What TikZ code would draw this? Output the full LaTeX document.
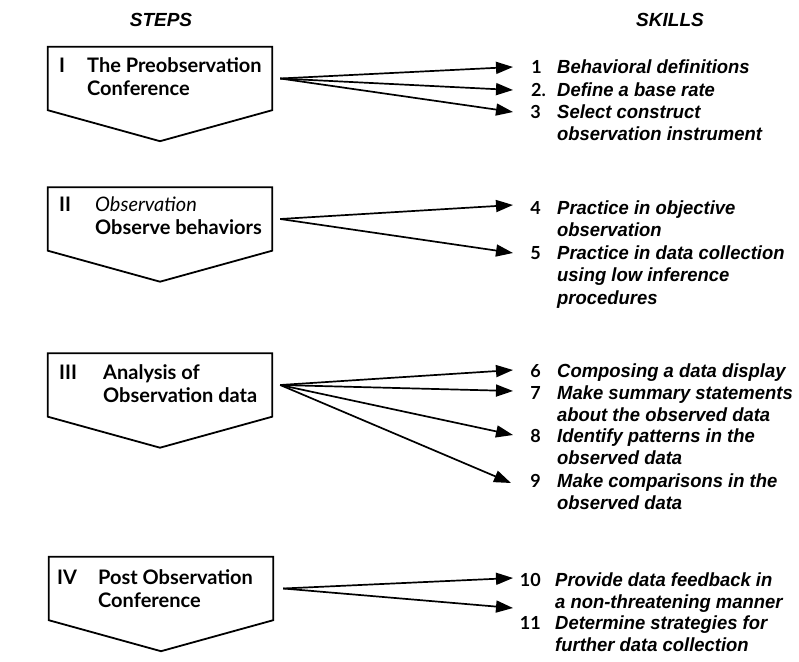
\documentclass[tikz,border=0pt]{standalone}
\usepackage{fontspec}
\setmainfont{Lato}
\newfontfamily\skillfont[FakeStretch=0.97]{Liberation Sans}
\newfontfamily\headfont{Liberation Sans}
\usetikzlibrary{arrows.meta,calc}
% rows of a multi-line label, baseline on the first row
\newcommand\sklines[1]{\begin{tabular}[t]{@{}l@{}}#1\end{tabular}}

\begin{document}
\begin{tikzpicture}[x=1pt,y=-1pt,
  stepbox/.style={minimum width=224pt, minimum height=63pt, inner sep=0pt},
  boxline/.style={line width=1.8pt, line join=miter},
  roman/.style={anchor=base west, inner sep=0pt, font=\fontsize{20}{23}\selectfont\bfseries},
  steptext/.style={anchor=base west, inner sep=0pt, font=\fontsize{20}{23}\selectfont\bfseries},
  head/.style={inner sep=0pt, font=\headfont\fontsize{19}{22}\selectfont\bfseries\itshape},
  num/.style={anchor=base east, inner sep=0pt, font=\fontsize{18}{22.6}\selectfont\bfseries},
  skill/.style={anchor=base west, inner sep=0pt, font=\skillfont\fontsize{19}{22.6}\selectfont\bfseries\itshape},
  arr/.style={line width=1.7pt, -{Triangle[length=17pt,width=12pt]}}
]
\useasboundingbox (0,0) rectangle (799,661);

% column headings
\node[head] (hsteps) at (161,20) {STEPS};
\node[head] (hskills) at (670,20) {SKILLS};

% the four steps
\node[stepbox] (b1) at (160,78.5) {};
\node[stepbox] (b2) at (160,219) {};
\node[stepbox] (b3) at (160,385) {};
\node[stepbox] (b4) at (161,588.5) {};
\foreach \b in {b1,b2,b3,b4}
  \draw[boxline] (\b.north west) -- (\b.north east) -- (\b.south east)
    -- ($(\b.south)+(0,31)$) -- (\b.south west) -- cycle;

\node[roman] (r1) at (59,72) {I};
\node[steptext] (x1) at (87,72) {\sklines{The Preobservation\\Conference}};
\node[roman] (r2) at (59,211) {II};
\node[steptext] (x2) at (95,211) {\sklines{{\mdseries\itshape Observation}\\Observe behaviors}};
\node[roman] (r3) at (59,379) {III};
\node[steptext] (x3) at (103,379) {\sklines{Analysis of\\Observation data}};
\node[roman] (r4) at (57,584) {IV};
\node[steptext] (x4) at (98,584) {\sklines{Post Observation\\Conference}};

% where the arrows of each step fan out
\coordinate (s1) at ($(b1.east)+(8,0)$);
\coordinate (s2) at ($(b2.east)+(8,0)$);
\coordinate (s3) at ($(b3.east)+(8,0)$);
\coordinate (s4) at ($(b4.east)+(10,0)$);

% skills
\node[num] (n1) at (542,73) {1};
\node[skill] (k1) at (557,73) {\sklines{Behavioral definitions}};
\node[num] (n2) at (546,96) {2.};
\node[skill] (k2) at (557,96) {\sklines{Define a base rate}};
\node[num] (n3) at (541,118) {3};
\node[skill] (k3) at (557,118) {\sklines{Select construct\\observation instrument}};

\node[num] (n4) at (541,214) {4};
\node[skill] (k4) at (557,214) {\sklines{Practice in objective\\observation}};
\node[num] (n5) at (541,259) {5};
\node[skill] (k5) at (557,259) {\sklines{Practice in data collection\\using low inference\\procedures}};

\node[num] (n6) at (541,377) {6};
\node[skill] (k6) at (557,377) {\sklines{Composing a data display}};
\node[num] (n7) at (541,399) {7};
\node[skill] (k7) at (557,399) {\sklines{Make summary statements\\about the observed data}};
\node[num] (n8) at (541,442) {8};
\node[skill] (k8) at (557,442) {\sklines{Identify patterns in the\\observed data}};
\node[num] (n9) at (541,487) {9};
\node[skill] (k9) at (557,487) {\sklines{Make comparisons in the\\observed data}};

\node[num] (n10) at (541,586) {10};
\node[skill] (k10) at (555,586) {\sklines{Provide data feedback in\\a non-threatening manner}};
\node[num] (n11) at (541,629) {11};
\node[skill] (k11) at (555,629) {\sklines{Determine strategies for\\further data collection}};

% arrow tips
\coordinate (t1) at (513,67);
\coordinate (t2) at (513,90);
\coordinate (t3) at (513,112);
\coordinate (t4) at (513,205);
\coordinate (t5) at (513,253);
\coordinate (t6) at (513,370);
\coordinate (t7) at (513,391);
\coordinate (t8) at (513,435);
\coordinate (t9) at (511,483);
\coordinate (t10) at (513,578);
\coordinate (t11) at (513,608);

\foreach \s/\t in {s1/t1,s1/t2,s1/t3,s2/t4,s2/t5,s3/t6,s3/t7,s3/t8,s3/t9,s4/t10,s4/t11}
  \draw[arr] (\s) -- (\t);
\end{tikzpicture}
\end{document}
